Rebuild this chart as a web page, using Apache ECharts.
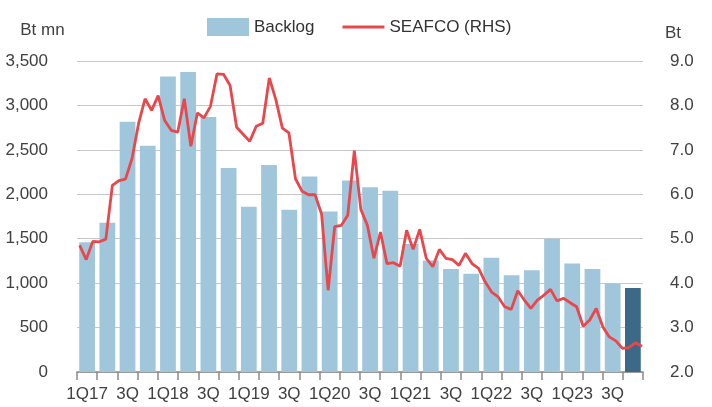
<!DOCTYPE html>
<html>
<head>
<meta charset="utf-8">
<script src="https://cdn.jsdelivr.net/npm/echarts@6/dist/echarts.min.js"></script>
<style>
  html, body { margin: 0; padding: 0; background: #fff; }
  #chart { width: 712px; height: 407px; }
</style>
</head>
<body>
<div id="chart"></div>
<script>
// quarters, 1Q17 .. 4Q23 (labels as printed under the axis)
var quarters = ['1Q17','2Q','3Q','4Q','1Q18','2Q','3Q','4Q','1Q19','2Q','3Q','4Q',
                '1Q20','2Q','3Q','4Q','1Q21','2Q','3Q','4Q','1Q22','2Q','3Q','4Q',
                '1Q23','2Q','3Q','4Q'];

// backlog, Bt mn
var backlog = [1460, 1680, 2815, 2545, 3325, 3375, 2870, 2295,
               1860, 2330, 1825, 2200, 1805, 2155, 2080, 2040,
               1440, 1255, 1160, 1105, 1285, 1090, 1145, 1500,
               1220, 1160, 995, 945];

// SEAFCO share price, Bt (monthly points)
var seafco = [4.85, 4.53, 4.94, 4.93, 4.99, 6.20, 6.31, 6.34, 6.80, 7.59,
              8.15, 7.89, 8.22, 7.66, 7.44, 7.40, 8.15, 7.08, 7.83, 7.72,
              7.98, 8.71, 8.70, 8.45, 7.51, 7.35, 7.19, 7.53, 7.60, 8.62,
              8.13, 7.49, 7.38, 6.35, 6.07, 5.99, 5.99, 5.55, 3.84, 5.27,
              5.30, 5.53, 6.98, 5.66, 5.30, 4.56, 5.15, 4.44, 4.46, 4.38,
              5.19, 4.76, 5.21, 4.56, 4.37, 4.76, 4.56, 4.53, 4.40, 4.67,
              4.44, 4.33, 4.03, 3.80, 3.69, 3.47, 3.41, 3.83, 3.62, 3.43,
              3.62, 3.73, 3.86, 3.60, 3.66, 3.56, 3.47, 3.03, 3.17, 3.43,
              3.02, 2.79, 2.70, 2.53, 2.55, 2.66, 2.58];

var font = "'Liberation Sans', Arial, sans-serif";
var txt = '#404040';

var chart = echarts.init(document.getElementById('chart'));

var barData = backlog.map(function (v, i) {
  if (i === backlog.length - 1) {
    return { value: v, itemStyle: { color: '#3d6988' } };
  }
  return v;
});

chart.setOption({
  animation: false,
  backgroundColor: '#fff',
  textStyle: { fontFamily: font },
  legend: {
    top: 13,
    left: 202,
    itemWidth: 42,
    itemHeight: 18,
    itemGap: 28,
    textStyle: { fontFamily: font, fontSize: 17, color: '#333' },
    data: [
      { name: 'Backlog', icon: 'rect' },
      { name: 'SEAFCO (RHS)', icon: 'path://M0,0 L44,0 L44,3 L0,3 Z' }
    ]
  },
  grid: {
    left: 77,
    right: 69,
    top: 61,
    bottom: 35
  },
  xAxis: [{
    type: 'category',
    data: quarters,
    axisLine: { lineStyle: { color: '#8a8a8a', width: 1.5 } },
    axisTick: { show: true, interval: 0, length: 8, lineStyle: { color: '#8a8a8a', width: 1.5 } },
    axisLabel: { interval: 1, margin: 14, fontSize: 17, color: txt, fontFamily: font },
    splitLine: { show: false }
  }, {
    type: 'value',
    show: false,
    min: -0.41,
    max: 86.15,
    splitLine: { show: false }
  }],
  yAxis: [{
    type: 'value',
    min: 0,
    max: 3500,
    interval: 500,
    name: 'Bt mn',
    nameGap: 22,
    nameTextStyle: { fontSize: 17, color: txt, fontFamily: font, align: 'right', padding: [0, 15, 0, 0] },
    axisLine: { show: false },
    axisTick: { show: false },
    axisLabel: {
      margin: 29, fontSize: 17, color: txt, fontFamily: font,
      formatter: function (v) { return v.toLocaleString('en-US'); }
    },
    splitLine: { lineStyle: { color: '#c8c8c8', width: 1 } }
  }, {
    type: 'value',
    position: 'right',
    min: 2,
    max: 9,
    interval: 1,
    name: 'Bt',
    nameGap: 19,
    nameTextStyle: { fontSize: 17, color: txt, fontFamily: font, align: 'left', padding: [0, 0, 0, 22] },
    axisLine: { show: false },
    axisTick: { show: false },
    axisLabel: {
      margin: 27, fontSize: 17, color: txt, fontFamily: font,
      formatter: function (v) { return v.toFixed(1); }
    },
    splitLine: { show: false }
  }],
  series: [{
    name: 'Backlog',
    type: 'bar',
    xAxisIndex: 0,
    yAxisIndex: 0,
    barCategoryGap: '22%',
    itemStyle: { color: '#a0c6dc' },
    data: barData
  }, {
    name: 'SEAFCO (RHS)',
    type: 'line',
    xAxisIndex: 1,
    yAxisIndex: 1,
    symbol: 'none',
    lineStyle: { color: '#e8474c', width: 2.8 },
    itemStyle: { color: '#e8474c' },
    data: seafco.map(function (v, i) { return [i, v]; })
  }]
});
</script>
</body>
</html>
